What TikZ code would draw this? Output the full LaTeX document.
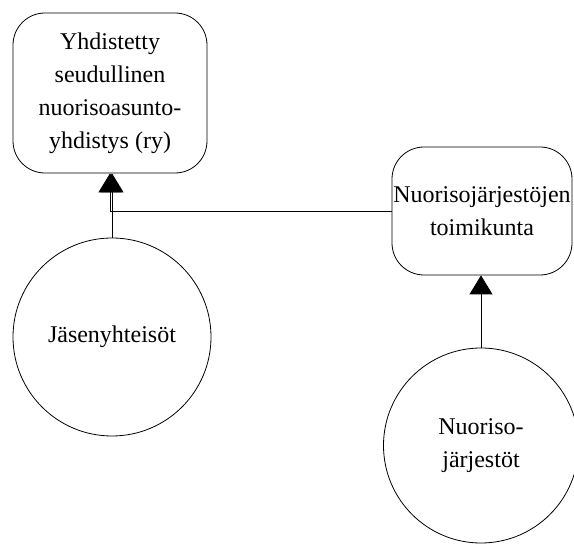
\documentclass[tikz,border=0pt]{standalone}
\usepackage{fontspec}
\setmainfont{Liberation Serif}
\usetikzlibrary{arrows.meta}

\begin{document}
\begin{tikzpicture}[x=1pt,y=-1pt,
    every node/.style={font=\fontsize{24}{33}\selectfont, align=center, inner sep=0pt},
    unit/.style={draw, line width=0.8pt, rounded corners=32pt},
    member/.style={draw, circle, line width=0.8pt},
    tie/.style={line width=0.8pt, -{Triangle[width=23pt,length=19pt]}}]
  \useasboundingbox (0,0) rectangle (574,545);

  % Draw the bodies
  \node[unit, minimum width=194pt, minimum height=160pt] (ry) at (110,93)
    {Yhdistetty\\seudullinen\\nuorisoasunto-\\yhdistys (ry)};
  \node[unit, minimum width=180pt, minimum height=128pt] (toim) at (482,211)
    {Nuorisojärjestöjen\\toimikunta};

  % Draw the members
  \node[member, minimum size=198pt] (jasen) at (112,337) {Jäsenyhteisöt};
  \node[member, minimum size=195pt] (nuor) at (481,445.5) {Nuoriso-\\järjestöt};

  % Draw the ties
  \draw[tie] (jasen.north) -- (jasen.north |- ry.south);
  \draw[tie] (toim.west) -| ([xshift=-2pt]jasen.north |- ry.south);
  \draw[tie] (nuor.north) -- (nuor.north |- toim.south);
\end{tikzpicture}
\end{document}
